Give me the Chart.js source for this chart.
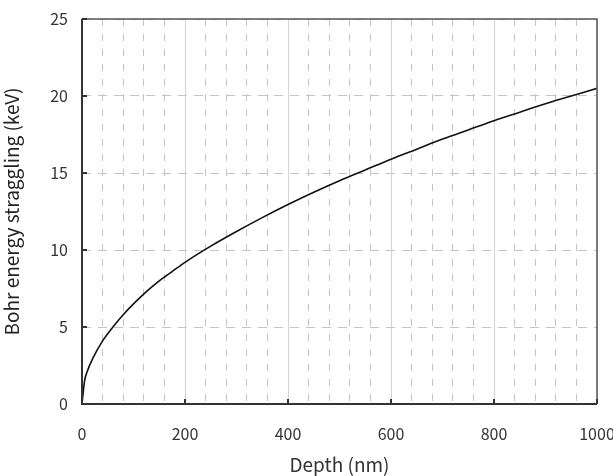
<!DOCTYPE html>
<html>
<head>
<meta charset="utf-8">
<script src="https://cdn.jsdelivr.net/npm/chart.js@4"></script>
<style>
  html, body { margin: 0; padding: 0; background: #fff; }
  #wrap { width: 613px; height: 476px; }
</style>
</head>
<body>
<div id="wrap"><canvas id="chart"></canvas></div>
<script>
// depth (nm) and Bohr straggling (keV)
const depth = [0, 5, 10, 20, 40, 60, 80, 100, 125, 150, 175, 200, 250, 300, 350, 400, 450, 500, 550, 600, 650, 700, 750, 800, 850, 900, 950, 1000];
const straggling = [0, 1.5, 2.1, 2.9, 4.1, 5.0, 5.8, 6.5, 7.3, 8.0, 8.6, 9.2, 10.25, 11.2, 12.1, 12.95, 13.75, 14.5, 15.2, 15.9, 16.55, 17.2, 17.8, 18.4, 18.95, 19.5, 20.0, 20.5];
const xTicks = [0, 200, 400, 600, 800, 1000];
const yTicks = [0, 5, 10, 15, 20, 25];

const font = "'Noto Sans CJK JP', 'Noto Sans', sans-serif";

// frame + inward tick marks
const frame = {
  id: 'frame',
  afterDraw(chart) {
    const { ctx, chartArea: a, scales } = chart;
    ctx.save();
    ctx.strokeStyle = '#555';
    ctx.lineWidth = 1.5;
    ctx.beginPath();
    ctx.moveTo(a.left, a.top); ctx.lineTo(a.right, a.top); ctx.lineTo(a.right, a.bottom);
    ctx.stroke();
    ctx.strokeStyle = '#333';
    ctx.lineWidth = 2;
    ctx.beginPath();
    ctx.moveTo(a.left, a.top); ctx.lineTo(a.left, a.bottom); ctx.lineTo(a.right, a.bottom);
    xTicks.forEach(v => {
      const px = scales.x.getPixelForValue(v);
      ctx.moveTo(px, a.bottom); ctx.lineTo(px, a.bottom - 5);
    });
    yTicks.forEach(v => {
      const py = scales.y.getPixelForValue(v);
      ctx.moveTo(a.left, py); ctx.lineTo(a.left + 5, py);
    });
    ctx.stroke();
    ctx.restore();
  }
};

new Chart(document.getElementById('chart'), {
  type: 'scatter',
  data: {
    datasets: [{
      data: depth.map((d, i) => ({ x: d, y: straggling[i] })),
      showLine: true,
      borderColor: '#111',
      borderWidth: 1.6,
      pointRadius: 0,
      cubicInterpolationMode: 'monotone'
    }]
  },
  options: {
    responsive: true,
    maintainAspectRatio: false,
    animation: false,
    layout: { padding: { top: 19, right: 16, left: 0, bottom: 0 } },
    plugins: { legend: { display: false }, tooltip: { enabled: false } },
    scales: {
      xMinor: {
        type: 'linear', position: 'bottom', min: 0, max: 1000,
        ticks: { display: false, stepSize: 40 },
        grid: {
          drawTicks: false,
          color: ctx => (ctx.tick && ctx.tick.value % 200 === 0) ? 'rgba(0,0,0,0)' : '#c4c4c4',
          lineWidth: 1
        },
        border: { display: false, dash: [7, 8] },
        afterFit: s => { s.height = 0; s.paddingLeft = 0; s.paddingRight = 0; }
      },
      x: {
        type: 'linear', position: 'bottom', min: 0, max: 1000,
        ticks: {
          stepSize: 200, padding: 20, color: '#333',
          font: { family: font, size: 16 },
          callback: v => String(v)
        },
        grid: { drawTicks: false, color: '#d4d4d4', lineWidth: 1 },
        border: { display: false },
        title: { display: true, text: 'Depth (nm)', color: '#333', font: { family: font, size: 19 }, padding: { top: 4, bottom: 0 } },
        afterFit: s => { s.height = 72; s.paddingLeft = 0; s.paddingRight = 0; }
      },
      y: {
        min: 0, max: 25,
        ticks: { stepSize: 5, padding: 14, color: '#333', font: { family: font, size: 16 } },
        grid: { drawTicks: false, color: '#c4c4c4', lineWidth: 1 },
        border: { display: false, dash: [9, 7] },
        title: { display: true, text: 'Bohr energy straggling (keV)', color: '#222', font: { family: font, size: 19 }, padding: { top: 0, bottom: 4 } },
        afterFit: s => { s.width = 82; s.paddingTop = 0; s.paddingBottom = 0; }
      }
    }
  },
  plugins: [frame]
});
</script>
</body>
</html>
